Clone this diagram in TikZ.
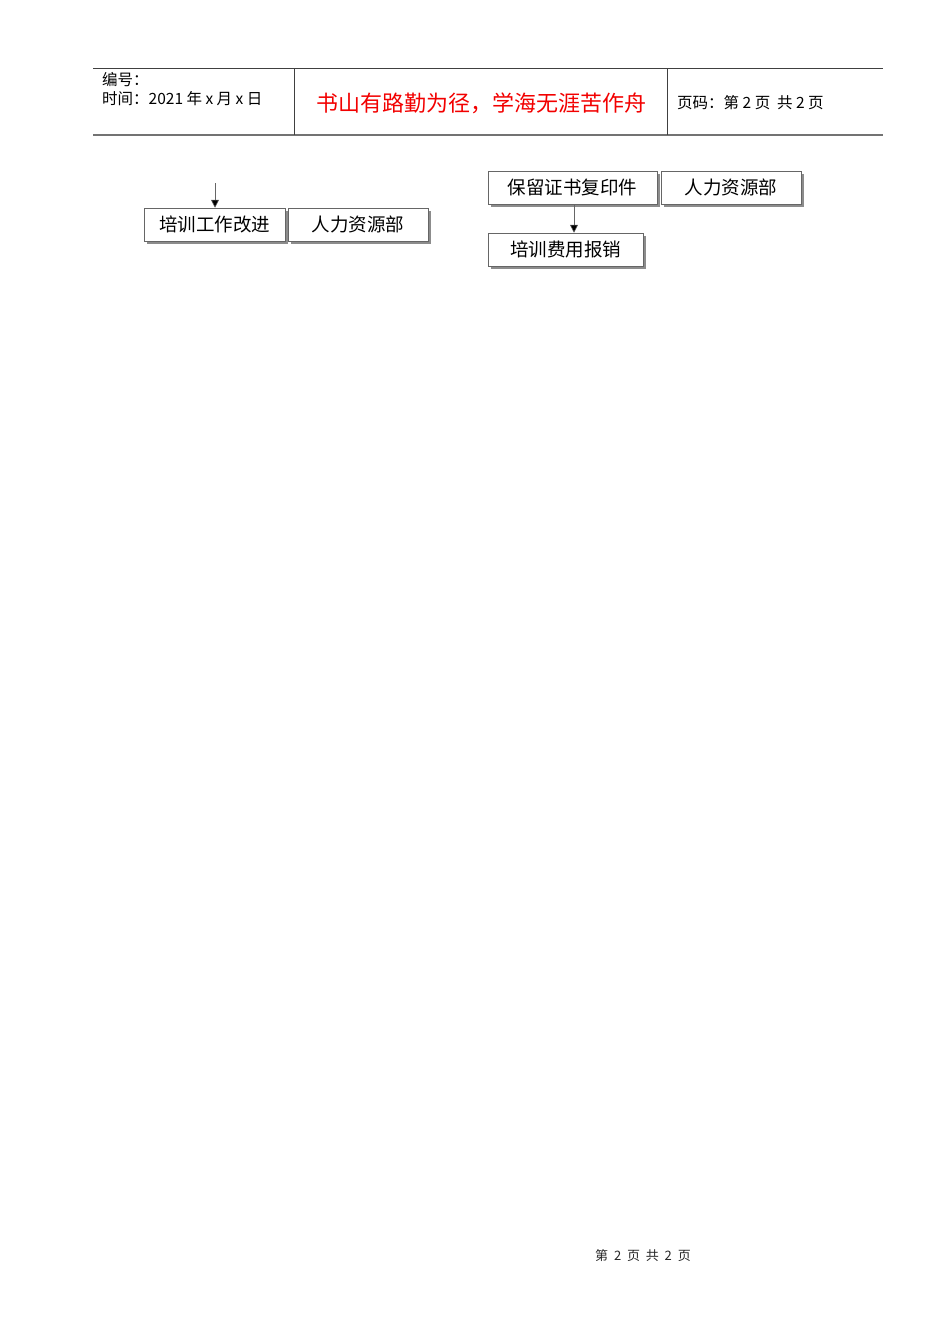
\documentclass[tikz,border=0pt]{standalone}
\usepackage{fontspec}
\setmainfont{Liberation Sans}
\newfontfamily\cjk{Noto Sans CJK SC}
\usetikzlibrary{arrows.meta,shadows}
\begin{document}
\begin{tikzpicture}[x=1pt,y=-1pt,
  hline/.style={line width=0.8pt,draw=black!75},
  flowbox/.style={draw=black!60,line width=0.5pt,fill=white,inner sep=0pt,
    font=\cjk\fontsize{18.5}{20}\selectfont,
    drop shadow={shadow xshift=2.5pt,shadow yshift=-2.5pt,fill=black!45,opacity=1}},
  flowarrow/.style={draw=black!60,line width=0.5pt,-{Triangle[length=8pt,width=8pt,fill=black]}}]
\useasboundingbox (0,0) rectangle (950,1344);
% header
\coordinate (tl) at (93,68);
\coordinate (tr) at (883,68);
\coordinate (bl) at (93,135);
\coordinate (br) at (883,135);
\coordinate (v1t) at (294,68);
\coordinate (v1b) at (294,135);
\coordinate (v2t) at (667,68);
\coordinate (v2b) at (667,135);
\draw[hline] (tl) -- (tr);
\draw[line width=1.2pt,draw=black!55] (bl) -- (br);
\draw[hline] (v1t) -- (v1b);
\draw[hline] (v2t) -- (v2b);
\node[anchor=west,inner sep=0pt,font=\cjk\fontsize{15.5}{17}\selectfont] (num) at (102,80) {编号：};
\node[anchor=west,inner sep=0pt,font=\cjk\fontsize{15.5}{17}\selectfont] (time) at (102,99) {时间：2021 年 x 月 x 日};
\node[inner sep=0pt,text=red!95!black,font=\cjk\fontsize{22}{24}\selectfont] (motto) at (481,103) {书山有路勤为径，学海无涯苦作舟};
\node[anchor=west,inner sep=0pt,font=\cjk\fontsize{15.5}{17}\selectfont] (page) at (677,103) {页码：第 2 页\ \ 共 2 页};
% flow boxes
\node[flowbox,minimum width=141pt,minimum height=33pt] (b1) at (214.5,224.5) {培训工作改进};
\node[flowbox,minimum width=140pt,minimum height=33pt] (b2) at (358,224.5) {人力资源部};
\node[flowbox,minimum width=169pt,minimum height=33pt] (b3) at (572.5,187.5) {保留证书复印件};
\node[flowbox,minimum width=140pt,minimum height=33pt] (b4) at (731,187.5) {人力资源部};
\node[flowbox,minimum width=155pt,minimum height=33pt] (b5) at (565.5,249.5) {培训费用报销};
\coordinate (a1) at (215,183);
\draw[flowarrow] (a1) -- (b1.north -| a1);
\draw[flowarrow] (b3.south -| 574,0) -- (b5.north -| 574,0);
% footer
\node[inner sep=0pt,font=\cjk\fontsize{13}{15}\selectfont,text=black!85] (foot) at (643,1256) {第\ \ 2\ \ 页\ \ 共\ \ 2\ \ 页};
\end{tikzpicture}
\end{document}
